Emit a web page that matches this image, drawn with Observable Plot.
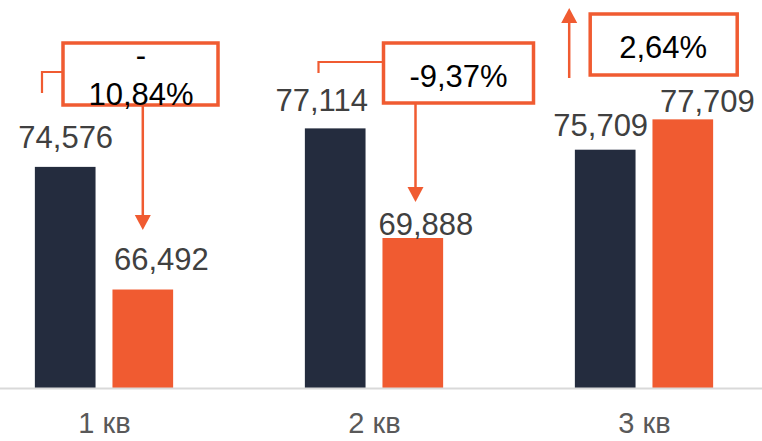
<!DOCTYPE html>
<html><head><meta charset="utf-8">
<script src="https://cdn.jsdelivr.net/npm/d3@7"></script>
<script src="https://cdn.jsdelivr.net/npm/@observablehq/plot@0.6"></script>
<style>
html,body{margin:0;padding:0;background:#fff;}
#chart svg{display:block;}
</style></head><body><div id="chart"></div>
<script>
// ---- data ----
const quarters = ["1 кв", "2 кв", "3 кв"];
const prevValues = [74.576, 77.114, 75.709];
const currValues = [66.492, 69.888, 77.709];

// ---- styles / layout ----
const DARK = "#242c3e", ORANGE = "#f05b31";
const W = 762, H = 441, BASE_Y = 388, PX_PER_UNIT = 15.17;
const yMin = 60, yMax = yMin + BASE_Y / PX_PER_UNIT;
const BAR_OFF = 38.8;               // bar centre offset from quarter centre
const BAND = (779 + 32) / 3;        // band width
const BAR_W = 61;
const FONT = "'Liberation Sans', Arial, sans-serif";

const rows = quarters.flatMap((q, i) => [
  {q, s: "prev", v: prevValues[i]},
  {q, s: "curr", v: currValues[i]}
]);
const changes = quarters.map((q, i) => ({q, c: currValues[i] / prevValues[i] - 1}));

const fmtVal = v => v.toFixed(3).replace(".", ",");
const fmtPct = c => (c * 100).toFixed(2).replace(".", ",") + "%";

// label nudges [dx, dy] relative to bar centre / bar top
const labelNudge = [[0, -29.5], [18, -29.5], [-14, -28], [12.5, -13.5], [-5, -24], [24, -17.5]];

// annotation layout, pixel offsets relative to quarter centre
const annLayout = [
  {box: [-41, 114, 43, 105], text: 37, lines: [66, 105], wrap: true,
   bracket: [[-41, 72], [-62, 72], [-62, 93]], arrow: [38.8, 105, 230]},
  {box: [9.5, 159.5, 43, 103], text: 84.5, lines: [87],
   bracket: [[9.5, 62], [-55.5, 62], [-55.5, 73]], arrow: [41.5, 103, 202]},
  {box: [-53.8, 93.2, 14, 75], text: 19.2, lines: [58],
   bracket: null, arrow: [-74.8, 78, 8]}
];

const insetFor = s => s === "prev"
  ? {insetLeft: BAND / 2 - BAR_OFF - BAR_W / 2, insetRight: BAND / 2 + BAR_OFF - BAR_W / 2}
  : {insetLeft: BAND / 2 + BAR_OFF - BAR_W / 2, insetRight: BAND / 2 - BAR_OFF - BAR_W / 2};

function annotations(index, scales, values, dimensions, context) {
  const sx = scales.x;
  const bw = typeof sx.bandwidth === "function" ? sx.bandwidth() : BAND;
  const g = d3.create("svg:g").attr("font-family", FONT);
  changes.forEach((d, i) => {
    const L = annLayout[i];
    const cx = sx(d.q) + bw / 2;
    const [x1, x2, y1, y2] = L.box;
    g.append("rect").attr("x", cx + x1).attr("y", y1).attr("width", x2 - x1).attr("height", y2 - y1)
      .attr("fill", "#fff").attr("stroke", ORANGE).attr("stroke-width", 3.5);
    if (L.bracket) {
      g.append("path").attr("d", "M" + L.bracket.map(p => [cx + p[0], p[1]].join(",")).join("L"))
        .attr("fill", "none").attr("stroke", ORANGE).attr("stroke-width", 2.2);
    }
    const [ax, ay1, ay2] = L.arrow;
    const dir = ay2 > ay1 ? 1 : -1;
    g.append("line").attr("x1", cx + ax).attr("x2", cx + ax).attr("y1", ay1).attr("y2", ay2 - dir * 14)
      .attr("stroke", ORANGE).attr("stroke-width", 2.5);
    g.append("path").attr("d", `M${cx + ax - 8},${ay2 - dir * 15}L${cx + ax + 8},${ay2 - dir * 15}L${cx + ax},${ay2}Z`)
      .attr("fill", ORANGE);
    const label = fmtPct(d.c);
    const parts = L.wrap ? [label.slice(0, 1), label.slice(1)] : [label];
    const t = g.append("text").attr("text-anchor", "middle").attr("font-size", 31).attr("fill", "#000");
    parts.forEach((p, k) => t.append("tspan").attr("x", cx + L.text).attr("y", L.lines[k]).text(p));
  });
  return g.node();
}

const chart = Plot.plot({
  width: W, height: H,
  marginTop: 0, marginLeft: 0, marginRight: 0, marginBottom: H - BASE_Y,
  style: {fontFamily: FONT, background: "#fff", overflow: "visible"},
  x: {type: "band", domain: quarters, range: [-32, 779], padding: 0, axis: null},
  y: {domain: [yMin, yMax], range: [BASE_Y, 0], axis: null},
  marks: [
    ...["prev", "curr"].map(s => Plot.barY(rows.filter(d => d.s === s), {
      x: "q", y1: yMin, y2: "v", fill: s === "prev" ? DARK : ORANGE, ...insetFor(s)
    })),
    Plot.ruleY([yMin], {stroke: "#d9d9d9", strokeWidth: 2}),
    ...rows.map((d, i) => Plot.text([d], {
      x: "q", y: "v", text: r => fmtVal(r.v),
      dx: (d.s === "prev" ? -BAR_OFF : BAR_OFF) + labelNudge[i][0], dy: labelNudge[i][1],
      lineAnchor: "middle", fontSize: 31, fill: "#404040"
    })),
    Plot.text(quarters, {x: d => d, y: yMin, dy: 35, lineAnchor: "middle", fontSize: 29, fill: "#595959"}),
    annotations
  ]
});
document.getElementById("chart").appendChild(chart);
</script>
</body></html>
